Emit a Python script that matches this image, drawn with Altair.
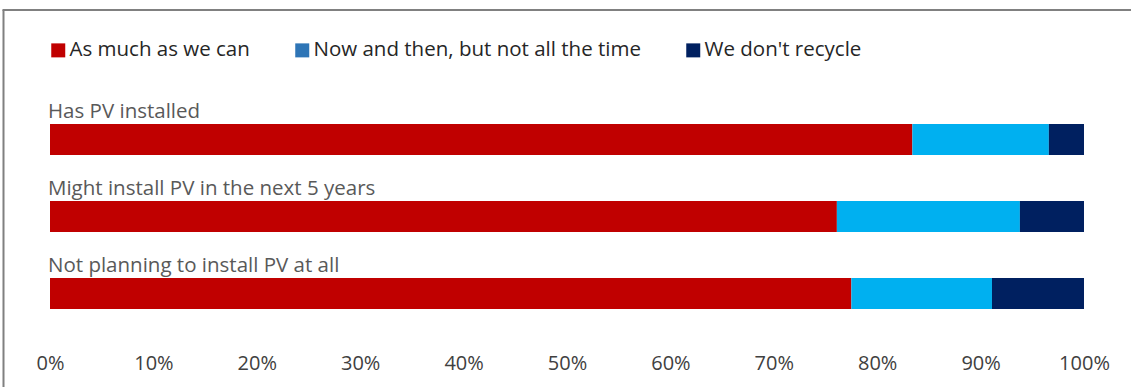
import altair as alt
import pandas as pd

categories = ["Has PV installed", "Might install PV in the next 5 years", "Not planning to install PV at all"]
responses = ["As much as we can", "Now and then, but not all the time", "We don't recycle"]
as_much = [83.4, 76.1, 77.5]
now_then = [13.2, 17.7, 13.6]
dont = [3.4, 6.2, 8.9]
bar_colors = ["#C00000", "#00B0F0", "#002060"]
legend_colors = ["#C00000", "#2E75B6", "#002060"]
tick_values = [0, 10, 20, 30, 40, 50, 60, 70, 80, 90, 100]

rows = []
for i, c in enumerate(categories):
    vals = [as_much[i], now_then[i], dont[i]]
    for j, r in enumerate(responses):
        rows.append({"Category": c, "Response": r, "Value": vals[j] / 100, "Order": j})
df = pd.DataFrame(rows)
labels_df = pd.DataFrame({"Category": categories, "x": [0.0] * len(categories)})

FONT = "Open Sans"

yenc = alt.Y("Category:N", sort=categories, axis=None,
             scale=alt.Scale(paddingInner=0.597, paddingOuter=0.2985))

bars = alt.Chart(df).mark_bar().encode(
    x=alt.X("Value:Q", stack="zero",
            scale=alt.Scale(domain=[0, 1], nice=False),
            axis=alt.Axis(format=".0%", values=[t / 100 for t in tick_values],
                          grid=False, domain=False, ticks=False, title=None,
                          labelFontSize=20, labelFont=FONT, labelColor="#404040",
                          labelPadding=21, labelFlush=False)),
    y=yenc,
    color=alt.Color("Response:N", scale=alt.Scale(domain=responses, range=bar_colors), legend=None),
    order=alt.Order("Order:Q"),
)

labels = alt.Chart(labels_df).mark_text(
    align="left", baseline="alphabetic", dx=-2, dy=-22,
    fontSize=20.5, font=FONT, color="#595959"
).encode(
    x=alt.X("x:Q"),
    y=yenc,
    text="Category:N",
)

legend_layer = alt.Chart(df).mark_square(opacity=1, filled=True).encode(
    color=alt.Color("Response:N",
                    scale=alt.Scale(domain=responses, range=legend_colors),
                    legend=alt.Legend(orient="none", legendX=-2, legendY=-61,
                                      direction="horizontal", title=None,
                                      symbolType="square", symbolSize=196,
                                      symbolStrokeWidth=0, symbolOpacity=1,
                                      labelFontSize=20.5,
                                      labelFont=FONT, labelColor="#262626",
                                      columnPadding=42, labelOffset=1,
                                      labelLimit=0)),
).transform_filter("false")

border_df = pd.DataFrame({"k": [0]})
left_border = alt.Chart(border_df).mark_rule(color="#808080", strokeWidth=2).encode(
    x=alt.value(-46.5), y=alt.value(-91), y2=alt.value(300)
)
top_border = alt.Chart(border_df).mark_rule(color="#808080", strokeWidth=2).encode(
    x=alt.value(-47.5), x2=alt.value(1100), y=alt.value(-91)
)

chart = alt.layer(bars, labels, legend_layer, left_border, top_border).resolve_scale(
    color="independent"
).properties(
    width=1034, height=231, autosize="none",
    padding={"left": 50, "top": 101, "right": 47, "bottom": 55},
).configure(font=FONT, background="white").configure_view(stroke="transparent", strokeWidth=0)

chart.save("out.html", embed_options={"renderer": "svg", "actions": False})
